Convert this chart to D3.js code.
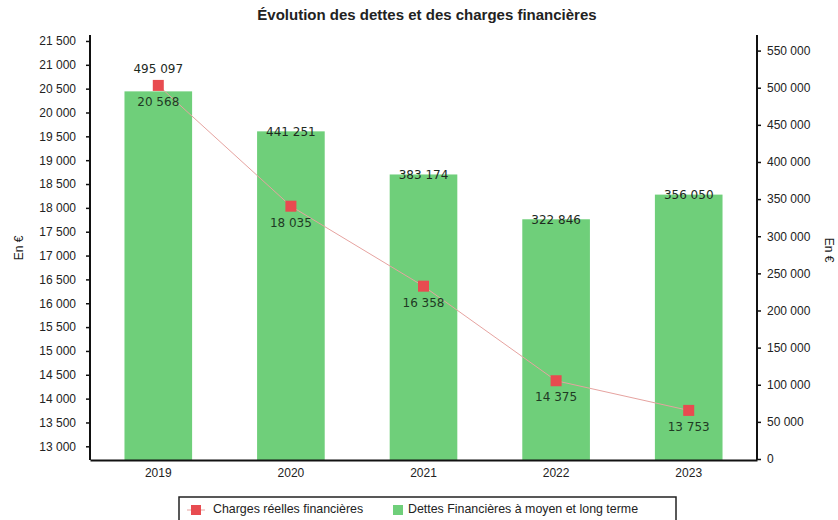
<!DOCTYPE html>
<html>
<head>
<meta charset="utf-8">
<script src="https://cdn.jsdelivr.net/npm/d3@7"></script>
<style>
  body { margin: 0; background: #fff; }
  svg { font-family: "Liberation Sans", Arial, sans-serif; }
</style>
</head>
<body>
<svg class="chart"></svg>
<script>
const W = 838, H = 520;
const margin = {top: 35, bottom: 60, left: 90, right: 81};
var width = W - margin.left - margin.right;
var height = H - margin.top - margin.bottom;

// data
var years = ["2019", "2020", "2021", "2022", "2023"];
var charges = [20568, 18035, 16358, 14375, 13753];   // left axis
var dettes = [495097, 441251, 383174, 322846, 356050]; // right axis
var leftTicks = d3.range(13000, 21501, 500);
var rightTicks = d3.range(0, 550001, 50000);

const svg = d3.select('.chart').attr('width', W).attr('height', H);
const chart = svg.append('g')
  .attr('transform', 'translate(' + margin.left + ',' + margin.top + ')');

var fmt = (v) => d3.format(',')(v).replace(/,/g, ' ');

var x = d3.scaleBand().domain(years).range([0, width]).paddingInner(0.49).paddingOuter(0.26);
var yL = d3.scaleLinear().domain([12713, 21625]).range([height, 0]);
var yR = d3.scaleLinear().domain([0, 571000]).range([height - 1, 0]);

// bars
chart.selectAll('rect.bar')
  .data(dettes)
  .enter().append('rect')
  .attr('class', 'bar')
  .attr('x', (d, i) => x(years[i]))
  .attr('y', (d) => yR(d))
  .attr('width', x.bandwidth())
  .attr('height', (d) => height - yR(d))
  .attr('fill', '#6fcf7a');

// line
var cx = (i) => x(years[i]) + x.bandwidth() / 2;
chart.append('path')
  .datum(charges)
  .attr('fill', 'none')
  .attr('stroke', '#e6a3a0')
  .attr('stroke-width', 1)
  .attr('d', d3.line().x((d, i) => cx(i)).y((d) => yL(d)));

chart.selectAll('rect.mk')
  .data(charges)
  .enter().append('rect')
  .attr('class', 'mk')
  .attr('x', (d, i) => cx(i) - 5.5)
  .attr('y', (d) => yL(d) - 5.5)
  .attr('width', 11).attr('height', 11)
  .attr('fill', '#e84b50');

// labels
var lblFont = '"DejaVu Sans", Verdana, sans-serif';
chart.selectAll('text.cl')
  .data(charges)
  .enter().append('text')
  .attr('x', (d, i) => cx(i))
  .attr('y', (d) => yL(d) + 17)
  .attr('text-anchor', 'middle')
  .attr('dominant-baseline', 'middle')
  .style('font-family', lblFont).style('font-size', '12px')
  .attr('fill', '#1f3a24')
  .text(fmt);

chart.selectAll('text.dl')
  .data(dettes)
  .enter().append('text')
  .attr('x', (d, i) => cx(i))
  .attr('y', (d, i) => {
    var top = yR(d), m = yL(charges[i]);
    return Math.abs(top - m) < 20 ? m - 16 : top + 1;
  })
  .attr('text-anchor', 'middle')
  .attr('dominant-baseline', 'middle')
  .style('font-family', lblFont).style('font-size', '12px')
  .attr('fill', '#1e2a1e')
  .text(fmt);

// axes
var axL = chart.append('g')
  .call(d3.axisLeft(yL).tickValues(leftTicks).tickFormat(fmt).tickSize(4).tickPadding(10));
var axR = chart.append('g')
  .attr('transform', 'translate(' + width + ',0)')
  .call(d3.axisRight(yR).tickValues(rightTicks).tickFormat(fmt).tickSize(4).tickPadding(6));
var axB = chart.append('g')
  .attr('transform', 'translate(0,' + height + ')')
  .call(d3.axisBottom(x).tickSize(0).tickPadding(8));

[axL, axR, axB].forEach((g) => {
  g.select('.domain').attr('stroke', '#111').attr('stroke-width', 2);
  g.selectAll('.tick line').attr('stroke', '#111').attr('stroke-width', 1.5);
  g.selectAll('.tick text').attr('fill', '#222').style('font-size', '12px')
    .style('font-family', '"Liberation Sans", Arial, sans-serif');
});
axL.select('.domain').attr('d', 'M0,0V' + height);
axR.select('.domain').attr('d', 'M0,0V' + height);

// axis titles
svg.append('text')
  .attr('transform', 'translate(20,248) rotate(-90)')
  .attr('text-anchor', 'middle').attr('dominant-baseline', 'middle')
  .style('font-size', '12px').attr('fill', '#222').text('En €');
svg.append('text')
  .attr('transform', 'translate(828,250) rotate(90)')
  .attr('text-anchor', 'middle').attr('dominant-baseline', 'middle')
  .style('font-size', '12px').attr('fill', '#222').text('En €');

// title
svg.append('text')
  .attr('x', 427).attr('y', 16)
  .attr('text-anchor', 'middle').attr('dominant-baseline', 'middle')
  .style('font-size', '15px').style('font-weight', 'bold').attr('fill', '#222')
  .text('Évolution des dettes et des charges financières');

// legend
var lg = svg.append('g');
lg.append('rect')
  .attr('x', 179).attr('y', 497).attr('width', 497).attr('height', 30)
  .attr('fill', '#fff').attr('stroke', '#222').attr('stroke-width', 1.5);
lg.append('line')
  .attr('x1', 187).attr('x2', 205).attr('y1', 510).attr('y2', 510)
  .attr('stroke', '#e6a3a0');
lg.append('rect')
  .attr('x', 191).attr('y', 505).attr('width', 10).attr('height', 10)
  .attr('fill', '#e84b50');
lg.append('text')
  .attr('x', 213).attr('y', 510).attr('dominant-baseline', 'middle')
  .style('font-size', '12.4px').attr('fill', '#222')
  .text('Charges réelles financières');
lg.append('rect')
  .attr('x', 393).attr('y', 505).attr('width', 10).attr('height', 10)
  .attr('fill', '#6fcf7a');
lg.append('text')
  .attr('x', 408).attr('y', 510).attr('dominant-baseline', 'middle')
  .style('font-size', '12.4px').attr('fill', '#222')
  .text('Dettes Financières à moyen et long terme');
</script>
</body>
</html>
